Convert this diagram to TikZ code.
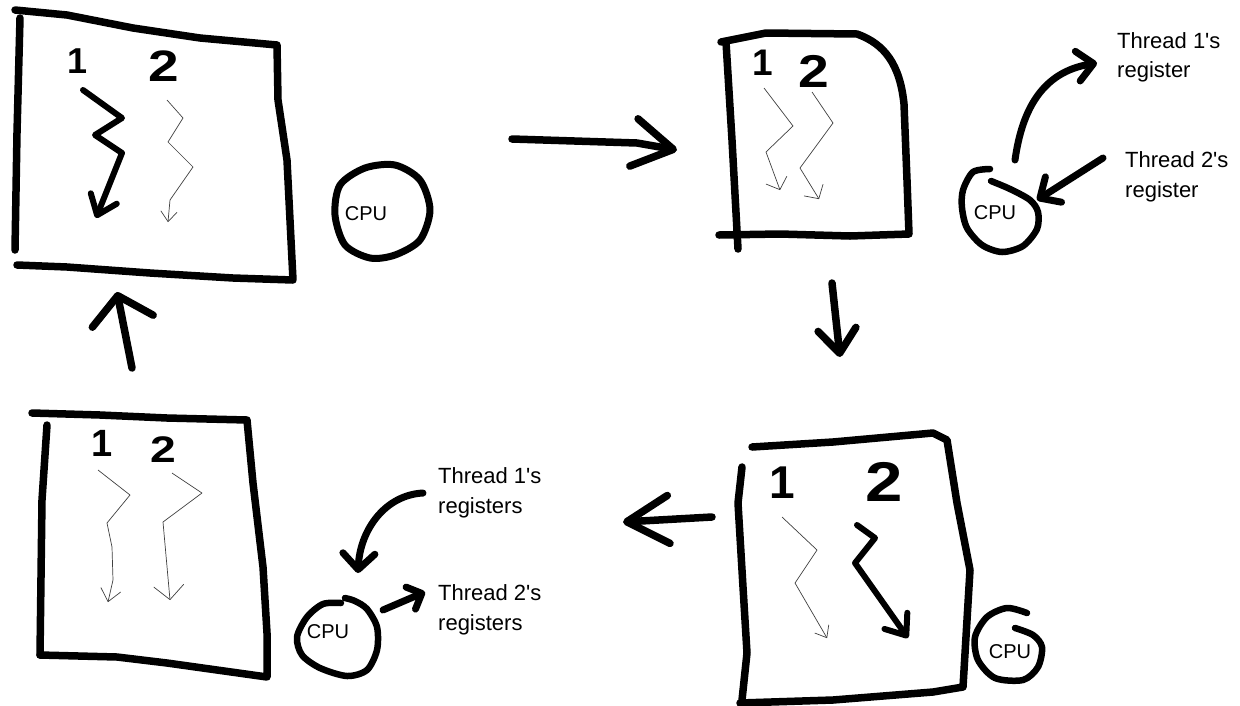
\documentclass[tikz,border=0pt]{standalone}
\usepackage{fontspec}
\setmainfont{Liberation Sans}
\usetikzlibrary{arrows.meta}

\begin{document}
\begin{tikzpicture}[x=1pt,y=-1pt, % pixel grid, y grows downwards
  pen/.style={line width=7.5pt,line cap=round,line join=round},
  hair/.style={line width=0.7pt,draw=black!75,line join=round},
  barb/.style 2 args={-{Straight Barb[length=#1pt,width=#2pt,line cap=round,line join=round]}},
  lbl/.style={anchor=base west,inner sep=0pt,font=\fontsize{22}{22}\selectfont},
  cpu/.style={inner sep=0pt,font=\fontsize{20}{20}\selectfont},
  num/.style={inner sep=0pt,font=\fontsize{#1}{#1}\selectfont\bfseries}]

\fill[white] (0,0) rectangle (1240,705);
\useasboundingbox (0,0) rectangle (1240,705);

%% process 1 running (top left)
\draw[pen] (15,10) -- (67,15) -- (133,28) -- (200,38) -- (277,45)
  -- (278,100) -- (287,160) -- (293,280)
  -- (233,278) -- (150,273) -- (67,267) -- (17,265);
\draw[pen] (20,18) -- (17,133) -- (15,250);
\node[num=36] (a1) at (78,61) {1};
\node[num=44] (a2) at (164,66) {\scalebox{1.25}[1]{2}};
\draw[pen,line width=6pt,barb={18}{28}] (83,90) -- (122,118) -- (95,135) -- (122,153) -- (96,218);
\draw[hair,barb={10}{16}] (167,100) -- (183,118) -- (168,142) -- (193,167) -- (170,200) -- (168,222);
\draw[pen,line width=7pt] plot[smooth cycle] coordinates {(340,185) (365,168) (395,165) (420,180) (430,210) (420,240) (395,255) (370,258) (345,245) (335,215)};
\node[cpu] (cpuA) at (366,214) {CPU};

\coordinate (ab1) at (512,139);
\coordinate (ab2) at (677,150);
\draw[pen,barb={40}{48}] (ab1) -- (637,143) -- (ab2);

%% switch: both stopped, registers saved (top right)
\draw[pen] (721,42) -- (766,33) -- (857,34) .. controls (885,44) and (900,65) .. (904,104)
  -- (907,180) -- (909,234) -- (850,236) -- (780,234) -- (719,235);
\draw[pen] (726,42) -- (732,140) -- (738,249);
\node[num=37] (b1) at (763,63) {1};
\node[num=46] (b2) at (814,71) {\scalebox{1.2}[1]{2}};
\draw[hair,barb={10}{22}] (764,88) -- (793,126) -- (766,152) -- (780,190);
\draw[hair,barb={10}{22}] (812,92) -- (833,123) -- (800,168) -- (819,199);
\draw[pen,line width=6.5pt] plot[smooth] coordinates {(990,169) (973,172) (963,190) (962,208) (967,228) (982,245) (1002,252) (1023,246) (1037,229) (1038,212) (1030,200) (1010,189) (991,181)};
\node[cpu] (cpuB) at (995,213) {CPU};
\node[lbl] (r1b) at (1117,48) {Thread 1\textquotesingle s};
\node[lbl] at (1117,77) {register};
\node[lbl] (r2b) at (1125,167) {Thread 2\textquotesingle s};
\node[lbl] at (1125,197) {register};
\coordinate (sv1) at (1015,160);
\coordinate (sv2) at (1097,63);
\draw[pen,line width=7pt,barb={16}{30}] (sv1) .. controls (1022,110) and (1042,72) .. (sv2);
\coordinate (ld1) at (1103,158);
\coordinate (ld2) at (1037,200);
\draw[pen,line width=7pt,barb={16}{30}] (ld1) -- (ld2);

\coordinate (bc1) at (832,283);
\coordinate (bc2) at (840,357);
\draw[pen,barb={24}{38}] (bc1) -- (bc2);

%% process 2 running (bottom right)
\draw[pen] (752,447) -- (833,442) -- (933,433) -- (947,440) -- (957,503) -- (970,570)
  -- (967,620) -- (963,687) -- (933,692) -- (833,700) -- (740,703);
\draw[pen] (742,467) -- (738,503) -- (743,587) -- (747,653) -- (742,700);
\node[num=46] (c1) at (782,483) {1};
\node[num=56] (c2) at (884,482) {\scalebox{1.2}[1]{2}};
\draw[hair,barb={10}{16}] (782,517) -- (817,550) -- (795,583) -- (827,638);
\draw[pen,line width=6pt,barb={18}{28}] (857,525) -- (875,538) -- (855,563) -- (908,638);
\draw[pen,line width=6.5pt] plot[smooth] coordinates {(1027,613) (1007,608) (987,617) (975,637) (978,660) (995,678) (1023,680) (1038,667) (1042,647) (1033,635) (1015,628)};
\node[cpu] (cpuC) at (1010,652) {CPU};

\coordinate (cd1) at (712,517);
\coordinate (cd2) at (623,522);
\draw[pen,barb={42}{48}] (cd1) -- (cd2);

%% switch back (bottom left)
\draw[pen] (32,413) -- (100,415) -- (167,418) -- (247,420)
  -- (253,483) -- (263,567) -- (267,633) -- (267,677)
  -- (167,663) -- (117,657) -- (40,655);
\draw[pen] (47,425) -- (42,500) -- (40,655);
\node[num=38] (d1) at (102,443) {1};
\node[num=37] (d2) at (163,450) {\scalebox{1.25}[1]{2}};
\draw[hair,barb={12}{20}] (98,470) -- (130,495) -- (107,523) -- (112,547) -- (113,580) -- (108,602);
\draw[hair,barb={14}{30}] (172,473) -- (202,493) -- (163,522) -- (170,600);
\draw[pen,line width=6.5pt] plot[smooth] coordinates {(341,603) (323,604) (307,617) (297,637) (302,655) (320,668) (347,676) (367,670) (377,650) (377,627) (367,609) (355,601) (345,598)};
\node[cpu] (cpuD) at (328,632) {CPU};
\node[lbl] (r1d) at (438,483) {Thread 1\textquotesingle s};
\node[lbl] at (438,513) {registers};
\node[lbl] (r2d) at (438,600) {Thread 2\textquotesingle s};
\node[lbl] at (438,630) {registers};
\coordinate (rs1) at (423,493);
\coordinate (rs2) at (358,573);
\draw[pen,line width=7pt,barb={16}{32}] (rs1) .. controls (385,495) and (360,530) .. (rs2);
\coordinate (st1) at (383,610);
\coordinate (st2) at (425,592);
\draw[pen,line width=7pt,barb={12}{24}] (st1) -- (st2);

\coordinate (da1) at (132,368);
\coordinate (da2) at (117,292);
\draw[pen,barb={26}{62}] (da1) -- (da2);
\end{tikzpicture}
\end{document}
